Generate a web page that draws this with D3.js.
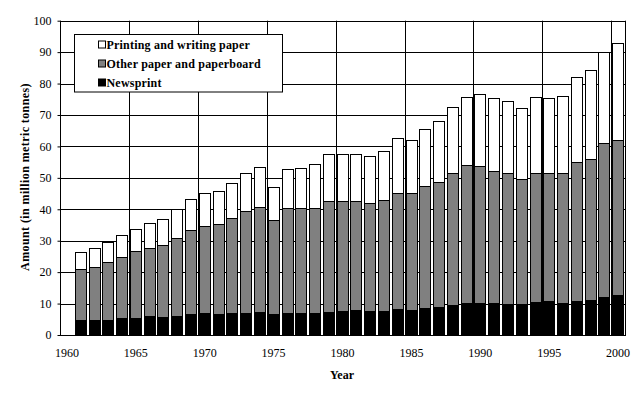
<!DOCTYPE html>
<html>
<head>
<meta charset="utf-8">
<script src="https://cdn.jsdelivr.net/npm/d3@7"></script>
<style>
  html, body { margin: 0; padding: 0; background: #fff; }
  svg { display: block; }
</style>
</head>
<body>
<svg id="chart" width="642" height="394" font-family="Liberation Serif"></svg>
<script>
// ---- data ----
const years = d3.range(1961, 2001);
const newsprint = [4.8, 4.8, 4.8, 5.4, 5.4, 6.0, 5.7, 6.0, 6.7, 7.0,
                   6.7, 7.0, 7.0, 7.3, 6.7, 7.0, 7.0, 7.0, 7.3, 7.6,
                   8.0, 7.6, 7.6, 8.3, 8.0, 8.6, 8.9, 9.5, 10.1, 10.1,
                   10.1, 9.9, 9.9, 10.5, 10.8, 10.1, 10.8, 11.1, 12.1, 12.7];
const otherPaper = [16.1, 16.7, 18.3, 19.3, 21.2, 21.6, 22.8, 24.8, 26.6, 27.6,
                    28.5, 30.1, 32.3, 33.3, 29.8, 33.3, 33.3, 33.3, 35.2, 34.9,
                    34.5, 34.3, 35.2, 36.9, 37.2, 38.7, 39.7, 42.2, 43.9, 43.6,
                    42.0, 41.5, 39.6, 40.9, 40.9, 41.6, 44.4, 44.8, 48.9, 49.2];
const printingWriting = [5.6, 6.1, 6.4, 7.0, 7.0, 7.9, 8.3, 9.2, 9.9, 10.5,
                         10.5, 11.2, 12.4, 12.7, 10.5, 12.4, 12.7, 14.0, 15.0, 15.0,
                         15.0, 15.0, 15.6, 17.5, 17.0, 18.1, 19.4, 20.7, 21.6, 22.9,
                         23.2, 22.9, 22.6, 24.2, 23.6, 24.5, 26.8, 28.3, 29.2, 30.9];
const categories = d3.range(1960, 2001);       // category axis incl. empty 1960
const yTicks = d3.range(0, 101, 10);
const xTickYears = d3.range(1960, 2001, 5);
const seriesNames = ["Newsprint", "Other paper and paperboard", "Printing and writing paper"];
const seriesColors = ["#000000", "#808080", "#ffffff"];

// ---- layout ----
const FONT = "Liberation Serif";
const svg = d3.select("#chart");
const L = 60, R = 625, T = 20.7, B = 335;
const x = d3.scaleBand().domain(categories).range([L, R]).paddingInner(0.15).paddingOuter(0.075);
const step = x.step();
const y = d3.scaleLinear().domain([0, 100]).range([B, T]);

const rows = years.map((yr, i) => ({
  year: yr,
  "Newsprint": newsprint[i],
  "Other paper and paperboard": otherPaper[i],
  "Printing and writing paper": printingWriting[i]
}));
const stacked = d3.stack().keys(seriesNames)(rows);

// gridlines horizontal
svg.append("g").selectAll("line").data(yTicks.filter(d => d > 0)).join("line")
  .attr("x1", L).attr("x2", R)
  .attr("y1", d => Math.round(y(d)) + 0.5).attr("y2", d => Math.round(y(d)) + 0.5)
  .attr("stroke", "#000").attr("stroke-width", 1);

// vertical gridlines at category boundaries
const boundary = yr => x(yr) - step * 0.075;
svg.append("g").selectAll("line").data(xTickYears.filter(d => d > 1960)).join("line")
  .attr("x1", d => Math.round(boundary(d)) + 0.5).attr("x2", d => Math.round(boundary(d)) + 0.5)
  .attr("y1", T).attr("y2", B)
  .attr("stroke", "#000").attr("stroke-width", 1);

// right border
svg.append("line").attr("x1", R + 0.5).attr("x2", R + 0.5).attr("y1", T).attr("y2", B)
  .attr("stroke", "#000");

// bars
svg.append("g").selectAll("g").data(stacked).join("g")
  .attr("fill", (d, i) => seriesColors[i])
  .selectAll("rect").data(d => d).join("rect")
  .attr("x", d => Math.round(x(d.data.year)) + 0.5)
  .attr("width", Math.round(x.bandwidth()) - 1)
  .attr("y", d => Math.round(y(d[1])) + 0.5)
  .attr("height", d => Math.round(y(d[0])) - Math.round(y(d[1])))
  .attr("stroke", "#000").attr("stroke-width", 1);

// y axis
const yAxis = d3.axisLeft(y).tickValues(yTicks).tickSize(3).tickPadding(6).tickFormat(d3.format("d"));
const gy = svg.append("g").attr("transform", `translate(${L + 0.5},0)`).call(yAxis)
  .attr("font-family", FONT).attr("font-size", 12);
gy.select(".domain").attr("d", `M0,${T}V${B}`).attr("stroke", "#000");
gy.selectAll(".tick line").attr("stroke", "#000");
gy.selectAll(".tick text").attr("fill", "#000");

// x axis
svg.append("line").attr("x1", L).attr("x2", R + 1).attr("y1", B + 0.5).attr("y2", B + 0.5).attr("stroke", "#000");
const xAxis = d3.axisBottom(x).tickValues(xTickYears).tickSize(0).tickPadding(13);
const gx = svg.append("g").attr("transform", `translate(0,${B})`).call(xAxis)
  .attr("font-family", FONT).attr("font-size", 12);
gx.select(".domain").remove();
gx.selectAll(".tick text").attr("fill", "#000");

// axis titles
svg.append("text").attr("x", 342).attr("y", 379).attr("text-anchor", "middle")
  .attr("font-family", FONT).attr("font-size", 12).attr("font-weight", "bold").text("Year");
svg.append("text").attr("transform", "translate(29,177) rotate(-90)").attr("text-anchor", "middle")
  .attr("font-family", FONT).attr("font-size", 12).attr("font-weight", "bold")
  .attr("letter-spacing", 0.4).text("Amount (in million metric tonnes)");

// legend
const lg = svg.append("g");
lg.append("rect").attr("x", 74.5).attr("y", 34.5).attr("width", 208).attr("height", 57.5)
  .attr("fill", "#fff").attr("stroke", "#000");
const legendOrder = [2, 1, 0];
legendOrder.forEach((si, r) => {
  const cy = 44.5 + r * 19;
  lg.append("rect").attr("x", 98.5).attr("y", cy - 3.5).attr("width", 7).attr("height", 7)
    .attr("fill", seriesColors[si]).attr("stroke", "#000");
  lg.append("text").attr("x", 106.5).attr("y", cy + 4.5)
    .attr("font-family", FONT).attr("font-size", 12).attr("font-weight", "bold")
    .attr("letter-spacing", 0.2).text(seriesNames[si]);
});
</script>
</body>
</html>
